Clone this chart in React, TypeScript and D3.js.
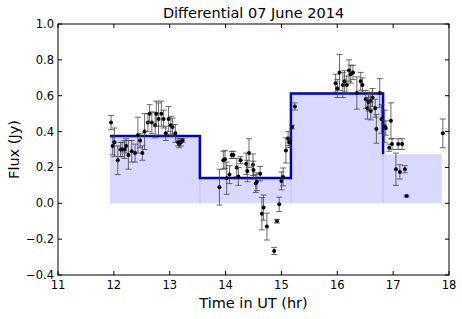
import React from 'react';
import * as d3 from 'd3';

// observations: time (UT hr), flux (Jy), 1-sigma error
const times = [
  11.95, 11.98, 12.01, 12.07, 12.12, 12.15, 12.19, 12.22, 12.26, 12.32, 12.38, 12.43, 12.47, 12.51,
  12.55, 12.61, 12.64, 12.68, 12.74, 12.76, 12.80, 12.85, 12.89, 12.93, 12.98, 13.02, 13.05, 13.10,
  13.15, 13.17, 13.20, 13.23,
  13.89, 13.96, 13.99, 14.02, 14.07, 14.11, 14.14, 14.20, 14.23, 14.27, 14.37, 14.39, 14.42, 14.49,
  14.50, 14.54, 14.56, 14.62, 14.65, 14.68, 14.74, 14.87, 14.92, 14.96, 15.00, 15.03, 15.08, 15.12,
  15.14, 15.19, 15.24,
  15.97, 16.00, 16.04, 16.10, 16.13, 16.17, 16.21, 16.24, 16.28, 16.35, 16.42, 16.45, 16.51, 16.54,
  16.56, 16.59, 16.60, 16.63, 16.68, 16.70, 16.76, 16.79, 16.85, 16.87, 16.93, 16.96, 16.98, 17.05,
  17.09, 17.12, 17.16, 17.21, 17.24, 17.89,
];
const fluxes = [
  0.45, 0.32, 0.34, 0.24, 0.30, 0.30, 0.30, 0.32, 0.27, 0.29, 0.28, 0.38, 0.35, 0.28,
  0.40, 0.45, 0.50, 0.45, 0.435, 0.50, 0.47, 0.50, 0.47, 0.39, 0.47, 0.435, 0.425, 0.39,
  0.34, 0.33, 0.34, 0.35,
  0.09, 0.24, 0.245, 0.14, 0.16, 0.27, 0.27, 0.20, 0.15, 0.24, 0.22, 0.18, 0.28, 0.215,
  0.185, 0.11, 0.12, 0.165, -0.058, -0.024, -0.13, -0.266, -0.10, -0.006, 0.125, 0.147, 0.295, 0.36,
  0.34, 0.425, 0.54,
  0.67, 0.64, 0.73, 0.66, 0.68, 0.66, 0.74, 0.72, 0.73, 0.615, 0.68, 0.66, 0.58, 0.53,
  0.565, 0.57, 0.515, 0.59, 0.53, 0.415, 0.615, 0.47, 0.43, 0.42, 0.31, 0.46, 0.33, 0.19,
  0.33, 0.175, 0.33, 0.19, 0.04, 0.39,
];
const errors = [
  0.04, 0.05, 0.08, 0.08, 0.04, 0.04, 0.05, 0.04, 0.08, 0.06, 0.05, 0.10, 0.04, 0.04,
  0.10, 0.05, 0.05, 0.06, 0.07, 0.07, 0.09, 0.07, 0.05, 0.04, 0.07, 0.05, 0.05, 0.05,
  0.02, 0.02, 0.02, 0.01,
  0.10, 0.05, 0.05, 0.09, 0.05, 0.02, 0.02, 0.05, 0.05, 0.02, 0.06, 0.06, 0.08, 0.06,
  0.05, 0.05, 0.05, 0.04, 0.09, 0.07, 0.075, 0.02, 0.01, 0.04, 0.05, 0.05, 0.07, 0.04,
  0.03, 0.01, 0.02,
  0.05, 0.05, 0.10, 0.07, 0.06, 0.05, 0.06, 0.05, 0.04, 0.09, 0.05, 0.04, 0.05, 0.06,
  0.05, 0.05, 0.05, 0.05, 0.05, 0.08, 0.08, 0.08, 0.09, 0.04, 0.02, 0.10, 0.03, 0.09,
  0.03, 0.04, 0.03, 0.02, 0.005, 0.08,
];

// Bayesian-block style bins
const binEdges = [11.93, 13.54, 15.17, 16.82, 17.87];
const binLevels = [0.375, 0.141, 0.612, 0.273];

const xTicks = [11, 12, 13, 14, 15, 16, 17, 18];
const yTicks = [-0.4, -0.2, 0.0, 0.2, 0.4, 0.6, 0.8, 1.0];

const W = 462;
const H = 319;
const margin = { top: 24, right: 13, bottom: 44, left: 58 };
const font = '"DejaVu Sans", sans-serif';

export default function App() {
  const x = d3.scaleLinear().domain([11, 18]).range([margin.left, W - margin.right]);
  const y = d3.scaleLinear().domain([-0.4, 1.0]).range([H - margin.bottom, margin.top]);
  const fmt = (v: number) => v.toFixed(1).replace('-', '\u2212');

  // step line through the bins (last bin drawn only as shading)
  const stepPts: [number, number][] = [];
  for (let i = 0; i < 3; i++) {
    stepPts.push([binEdges[i], binLevels[i]]);
    stepPts.push([binEdges[i + 1], binLevels[i]]);
  }
  stepPts.push([binEdges[3], binLevels[3]]);
  const line = d3.line<[number, number]>().x(d => x(d[0])).y(d => y(d[1]));

  const x0 = margin.left;
  const x1 = W - margin.right;
  const y0 = margin.top;
  const y1 = H - margin.bottom;
  const tick = 4;

  return (
    <svg width={W} height={H} style={{ position: 'absolute', left: 0, top: 0, background: '#fff' }}>
      {/* shaded bins */}
      {binLevels.map((lv, i) => (
        <rect key={'b' + i} x={x(binEdges[i])} width={x(binEdges[i + 1]) - x(binEdges[i])}
          y={y(lv)} height={y(0) - y(lv)} fill="#0000ff" fillOpacity={0.15} />
      ))}
      {binEdges.slice(1, 4).map((e, i) => (
        <line key={'e' + i} x1={x(e)} x2={x(e)} y1={y(0)} y2={y(Math.min(binLevels[i], binLevels[i + 1]))}
          stroke="#0000ff" strokeOpacity={0.08} strokeWidth={1.5} />
      ))}
      <path d={line(stepPts) || ''} fill="none" stroke="#0000c8" strokeWidth={2.5} />

      {/* error bars + points */}
      {times.map((t, i) => {
        const cx = x(t);
        const hi = y(fluxes[i] + errors[i]);
        const lo = y(fluxes[i] - errors[i]);
        return (
          <g key={'p' + i}>
            <line x1={cx} x2={cx} y1={hi} y2={lo} stroke="#444" strokeWidth={0.8} />
            <line x1={cx - 3} x2={cx + 3} y1={hi} y2={hi} stroke="#444" strokeWidth={0.8} />
            <line x1={cx - 3} x2={cx + 3} y1={lo} y2={lo} stroke="#444" strokeWidth={0.8} />
            <circle cx={cx} cy={y(fluxes[i])} r={2} fill="#000" />
          </g>
        );
      })}

      {/* frame */}
      <rect x={x0} y={y0} width={x1 - x0} height={y1 - y0} fill="none" stroke="#000" strokeWidth={1} />

      {xTicks.map(t => (
        <g key={'xt' + t}>
          <line x1={x(t)} x2={x(t)} y1={y1} y2={y1 - tick} stroke="#000" />
          <line x1={x(t)} x2={x(t)} y1={y0} y2={y0 + tick} stroke="#000" />
          <text x={x(t)} y={y1 + 14} textAnchor="middle" fontFamily={font} fontSize={11.5}>{t}</text>
        </g>
      ))}
      {yTicks.map(v => (
        <g key={'yt' + v}>
          <line x1={x0} x2={x0 + tick} y1={y(v)} y2={y(v)} stroke="#000" />
          <line x1={x1} x2={x1 - tick} y1={y(v)} y2={y(v)} stroke="#000" />
          <text x={x0 - 4} y={y(v)} dy="0.35em" textAnchor="end" fontFamily={font} fontSize={11.5}>{fmt(v)}</text>
        </g>
      ))}

      <text x={(x0 + x1) / 2} y={18} textAnchor="middle" fontFamily={font} fontSize={14.5}>Differential 07 June 2014</text>
      <text x={(x0 + x1) / 2} y={308} textAnchor="middle" fontFamily={font} fontSize={14.5}>Time in UT (hr)</text>
      <text transform={`translate(19,${(y0 + y1) / 2}) rotate(-90)`} textAnchor="middle" fontFamily={font} fontSize={14.5}>Flux (Jy)</text>
    </svg>
  );
}
